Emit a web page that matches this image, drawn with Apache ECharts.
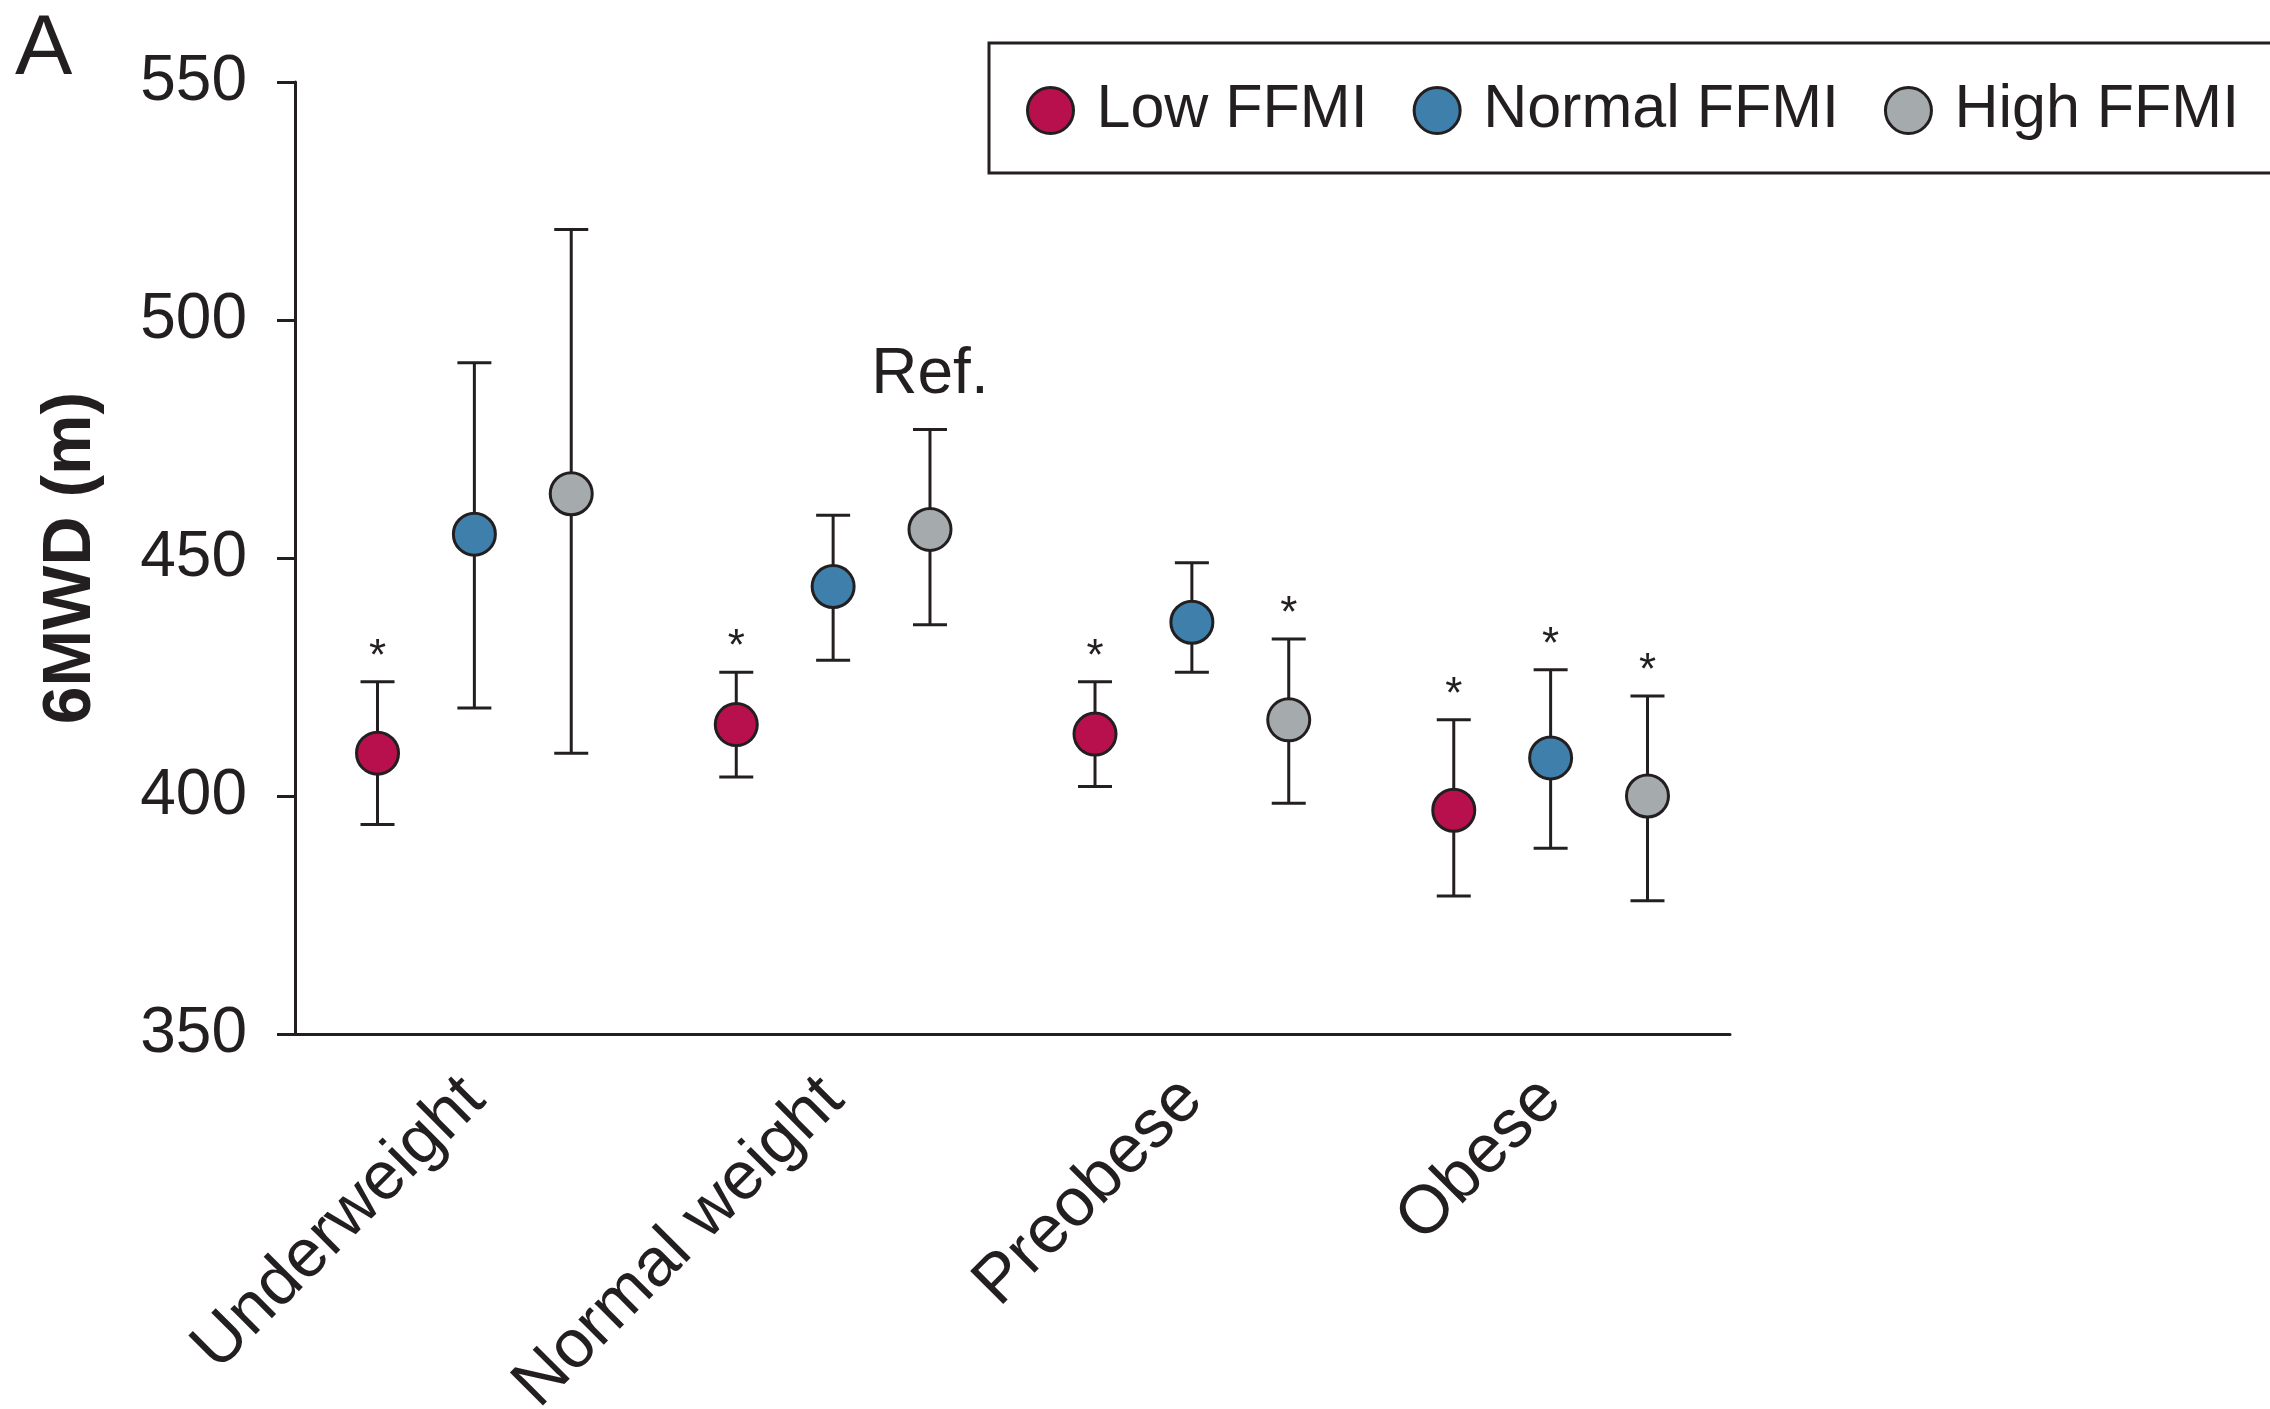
<!DOCTYPE html>
<html>
<head>
<meta charset="utf-8">
<script src="https://cdn.jsdelivr.net/npm/echarts@6/dist/echarts.min.js"></script>
<style>
html, body { margin: 0; padding: 0; background: #fff; }
#main { width: 2270px; height: 1409px; }
</style>
</head>
<body>
<div id="main"></div>
<script>
// BMI category groups and 6MWD (m) per FFMI level: mean, lower and upper bound
var categories = ['Underweight', 'Normal weight', 'Preobese', 'Obese'];

var lowMean = [409, 415, 413, 397];
var lowLower = [394, 404, 402, 379];
var lowUpper = [424, 426, 424, 416];
var lowNote = ['*', '*', '*', '*'];

var normalMean = [455, 444, 436.5, 408];
var normalLower = [418.5, 428.5, 426, 389];
var normalUpper = [491, 459, 449, 426.5];
var normalNote = ['', '', '', '*'];

var highMean = [463.5, 456, 416, 400];
var highLower = [409, 436, 398.5, 378];
var highUpper = [519, 477, 433, 421];
var highNote = ['', 'Ref.', '*', '*'];

var yTicks = [350, 400, 450, 500, 550];

var ink = '#231f20';
var font = 'Liberation Sans, Arial, Helvetica, sans-serif';

function rows(mean, lower, upper) {
    return mean.map(function (m, i) {
        return [i, m, lower[i], upper[i]];
    });
}

function makeRender(offset, color, notes) {
    return function (params, api) {
        var i = api.value(0);
        var band = api.size([1, 0])[0];
        var x = api.coord([i, 0])[0] + offset * band;
        var yMean = api.coord([i, api.value(1)])[1];
        var yLo = api.coord([i, api.value(2)])[1];
        var yHi = api.coord([i, api.value(3)])[1];
        var cap = 17;
        var line = { stroke: ink, lineWidth: 3 };
        var children = [
            { type: 'line', shape: { x1: x, y1: yHi, x2: x, y2: yLo }, style: line },
            { type: 'line', shape: { x1: x - cap, y1: yHi, x2: x + cap, y2: yHi }, style: line },
            { type: 'line', shape: { x1: x - cap, y1: yLo, x2: x + cap, y2: yLo }, style: line },
            { type: 'circle', shape: { cx: x, cy: yMean, r: 21 }, style: { fill: color, stroke: ink, lineWidth: 3 } }
        ];
        var note = notes[params.dataIndex];
        if (note) {
            var star = note === '*';
            children.push({
                type: 'text',
                style: {
                    text: note,
                    x: x,
                    y: yHi - (star ? 24 : 54),
                    align: 'center',
                    verticalAlign: 'middle',
                    fontSize: star ? 44 : 64,
                    fontFamily: font,
                    fill: ink
                }
            });
        }
        return { type: 'group', children: children };
    };
}

var myChart = echarts.init(document.getElementById('main'));

var option = {
    animation: false,
    backgroundColor: '#fff',
    textStyle: { fontFamily: font, color: ink },
    title: {
        text: 'A',
        left: 10,
        top: 2,
        textStyle: { fontSize: 86, fontWeight: 'normal', color: ink, fontFamily: font }
    },
    legend: {
        left: 989,
        top: 43,
        width: 1400,
        padding: [37, 100, 32, 37],
        borderColor: ink,
        borderWidth: 3,
        icon: 'circle',
        itemWidth: 82,
        itemHeight: 46,
        itemGap: 45,
        itemStyle: { borderColor: ink, borderWidth: 3 },
        textStyle: { fontSize: 61, color: ink, fontFamily: font },
        data: ['Low FFMI', 'Normal FFMI', 'High FFMI']
    },
    grid: {
        left: 295,
        right: 540,
        top: 82,
        bottom: 375,
        outerBoundsMode: 'none'
    },
    xAxis: {
        type: 'category',
        data: categories,
        boundaryGap: true,
        axisTick: { show: false },
        axisLine: { lineStyle: { color: ink, width: 3 } },
        axisLabel: {
            rotate: 45,
            margin: 55,
            fontSize: 68,
            color: ink,
            fontFamily: font
        },
        splitLine: { show: false }
    },
    yAxis: {
        type: 'value',
        min: yTicks[0],
        max: yTicks[yTicks.length - 1],
        interval: 50,
        name: '6MWD (m)',
        nameLocation: 'middle',
        nameGap: 190,
        nameRotate: 90,
        nameTextStyle: { fontSize: 68, fontWeight: 'bold', color: ink, fontFamily: font },
        axisLine: { show: true, lineStyle: { color: ink, width: 3 } },
        axisTick: { show: true, length: 18, lineStyle: { color: ink, width: 3 } },
        axisLabel: { fontSize: 64, color: ink, margin: 48, fontFamily: font },
        splitLine: { show: false }
    },
    series: [
        {
            name: 'Low FFMI',
            type: 'custom',
            itemStyle: { color: '#b8104c' },
            encode: { x: 0, y: [1, 2, 3] },
            data: rows(lowMean, lowLower, lowUpper),
            renderItem: makeRender(-0.27, '#b8104c', lowNote)
        },
        {
            name: 'Normal FFMI',
            type: 'custom',
            itemStyle: { color: '#3f7fac' },
            encode: { x: 0, y: [1, 2, 3] },
            data: rows(normalMean, normalLower, normalUpper),
            renderItem: makeRender(0, '#3f7fac', normalNote)
        },
        {
            name: 'High FFMI',
            type: 'custom',
            itemStyle: { color: '#a5aaac' },
            encode: { x: 0, y: [1, 2, 3] },
            data: rows(highMean, highLower, highUpper),
            renderItem: makeRender(0.27, '#a5aaac', highNote)
        }
    ]
};

myChart.setOption(option);
</script>
</body>
</html>
